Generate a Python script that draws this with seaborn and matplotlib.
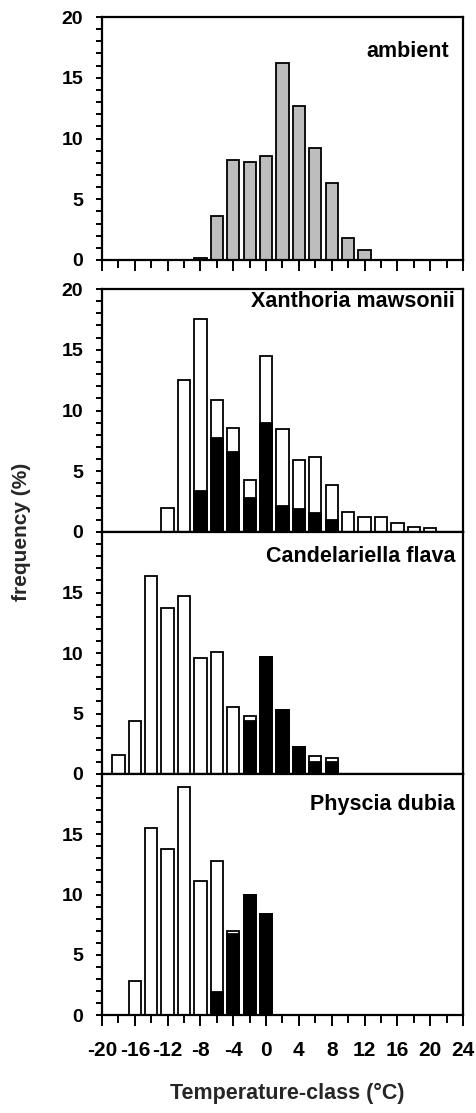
import numpy as np
import matplotlib
matplotlib.use("Agg")
import matplotlib.pyplot as plt
import seaborn as sns

# ---------------- data ----------------
x_ticks = [-20, -16, -12, -8, -4, 0, 4, 8, 12, 16, 20, 24]

ambient_t = [-8, -6, -4, -2, 0, 2, 4, 6, 8, 10, 12]
ambient_v = [0.2, 3.6, 8.2, 8.1, 8.6, 16.2, 12.7, 9.2, 6.3, 1.8, 0.8]

xan_t = [-12, -10, -8, -6, -4, -2, 0, 2, 4, 6, 8, 10, 12, 14, 16, 18, 20]
xan_total = [2.0, 12.5, 17.5, 10.9, 8.6, 4.3, 14.5, 8.5, 5.9, 6.2, 3.9, 1.65, 1.2, 1.2, 0.75, 0.45, 0.3]
xan_bt = [-8, -6, -4, -2, 0, 2, 4, 6, 8]
xan_black = [3.4, 7.7, 6.6, 2.8, 9.0, 2.1, 1.9, 1.6, 1.0]

can_t = [-18, -16, -14, -12, -10, -8, -6, -4, -2, 0, 2, 4, 6, 8]
can_total = [1.6, 4.4, 16.35, 13.7, 14.7, 9.6, 10.1, 5.55, 4.77, 9.67, 5.3, 2.2, 1.5, 1.34]
can_bt = [-2, 0, 2, 4, 6, 8]
can_black = [4.4, 9.67, 5.3, 2.2, 1.0, 1.0]

phy_t = [-16, -14, -12, -10, -8, -6, -4, -2, 0]
phy_total = [2.8, 15.5, 13.8, 18.9, 11.1, 12.8, 7.0, 9.97, 8.35]
phy_bt = [-6, -4, -2, 0]
phy_black = [1.9, 6.7, 9.97, 8.35]

panel_names = ["ambient", "Xanthoria mawsonii", "Candelariella flava", "Physcia dubia"]
xlabel = "Temperature-class (°C)"
ylabel = "frequency (%)"

# ---------------- style ----------------
sns.set_theme(style="white")
plt.rcParams["font.family"] = ["Liberation Sans", "DejaVu Sans"]
plt.rcParams["font.weight"] = "bold"

W, H = 477, 1113
fig = plt.figure(figsize=(W / 100, H / 100), dpi=100)

left_px, right_px = 102, 463
panels_px = [(17, 260), (289, 532), (532, 774), (774, 1015)]
axes = []
for top, bot in panels_px:
    ax = fig.add_axes([left_px / W, 1 - bot / H, (right_px - left_px) / W, (bot - top) / H])
    axes.append(ax)

bar_kw = dict(native_scale=True, width=0.75, edgecolor="black", linewidth=1.3,
              saturation=1, errorbar=None)

sns.barplot(x=ambient_t, y=ambient_v, color="#bdbdbd", ax=axes[0], **bar_kw)
sns.barplot(x=xan_t, y=xan_total, color="white", ax=axes[1], **bar_kw)
sns.barplot(x=xan_bt, y=xan_black, color="black", ax=axes[1], **bar_kw)
sns.barplot(x=can_t, y=can_total, color="white", ax=axes[2], **bar_kw)
sns.barplot(x=can_bt, y=can_black, color="black", ax=axes[2], **bar_kw)
sns.barplot(x=phy_t, y=phy_total, color="white", ax=axes[3], **bar_kw)
sns.barplot(x=phy_bt, y=phy_black, color="black", ax=axes[3], **bar_kw)

text_pos = [(0.961, 0.856), (0.978, 0.947), (0.978, 0.90), (0.978, 0.872)]
for i, ax in enumerate(axes):
    ax.set_xlim(-20, 24)
    ax.set_ylim(0, 20)
    ax.set_xticks(x_ticks)
    ax.set_xticks(np.arange(-20, 25, 2), minor=True)
    ax.set_yticks(np.arange(0, 21, 1), minor=True)
    if i < 2:
        ax.set_yticks([0, 5, 10, 15, 20])
    else:
        ax.set_yticks([0, 5, 10, 15])
    ax.set_yticklabels([str(int(v)) for v in ax.get_yticks()], fontsize=14, fontweight="bold")
    if i == 3:
        ax.set_xticklabels([str(v) for v in x_ticks], fontsize=15, fontweight="bold")
    else:
        ax.set_xticklabels([])
    ax.tick_params(axis="x", which="major", direction="out", length=8, width=1.4,
                   bottom=True, colors="black", pad=11)
    ax.tick_params(axis="x", which="minor", direction="out", length=5.5, width=1.4,
                   bottom=True, colors="black")
    ax.tick_params(axis="y", which="both", direction="out", length=4.5, width=1.4,
                   left=True, colors="black", pad=9)
    for s in ax.spines.values():
        s.set_visible(True)
        s.set_color("black")
        s.set_linewidth(1.6)
    ax.set_xlabel("")
    ax.set_ylabel("")
    ax.grid(False)
    ax.set_facecolor("white")
    tx, ty = text_pos[i]
    ax.text(tx, ty, panel_names[i], transform=ax.transAxes, ha="right", va="center",
            fontsize=15.5, fontweight="bold", color="black")

fig.text(22 / W, 1 - 532 / H, ylabel, rotation=90, ha="center", va="center",
         fontsize=15, fontweight="bold")
fig.text(287 / W, 1 - 1093 / H, xlabel, ha="center", va="center",
         fontsize=15.5, fontweight="bold")

fig.savefig("out.png", dpi=100, facecolor="white")
